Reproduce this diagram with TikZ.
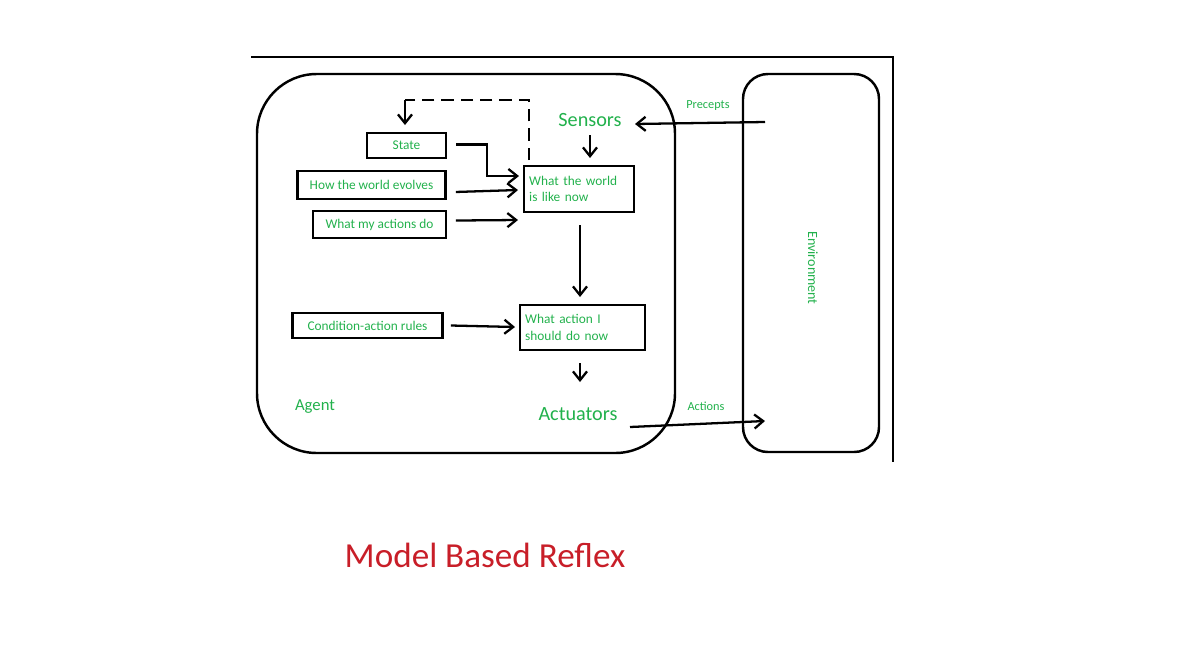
\documentclass[tikz,border=0pt]{standalone}
\usepackage{fontspec}
\setmainfont{Carlito}
\usetikzlibrary{arrows.meta}
\definecolor{grn}{RGB}{34,177,76}
\definecolor{ttl}{RGB}{200,30,40}
\begin{document}
\begin{tikzpicture}[x=0.02cm,y=-0.02cm,
  box/.style={draw,line width=1.4pt,inner sep=0pt,text=grn,font=\fontsize{7.6}{9.5}\selectfont},
  big/.style={text=grn,font=\fontsize{11.5}{13}\selectfont,inner sep=0pt},
  lbl/.style={text=grn,font=\fontsize{7}{8}\selectfont,inner sep=0pt},
  arr/.style={-{Straight Barb[length=5pt,width=8pt]},line width=1.3pt}]
\useasboundingbox (0,0) rectangle (1200,650);
\draw[line width=1pt] (251,57) -- (893,57) -- (893,462);
\draw[line width=1.4pt,rounded corners=60pt*0.567] (257,74) rectangle (675,453);
\draw[line width=1.4pt,rounded corners=25pt*0.567] (743,74) rectangle (879,452);
\node[lbl,rotate=-90,font=\fontsize{8}{9}\selectfont] (env) at (813,268) {Environment};
\node[big] (sens) at (590,120) {Sensors};
\node[big] (act) at (578,414) {Actuators};
\node[big,font=\fontsize{9.5}{11}\selectfont] (agent) at (315,407) {Agent};
\node[box,minimum width=79*0.567pt,minimum height=25*0.567pt] (state) at (406.5,145.5) {State};
\node[box,minimum width=149*0.567pt,minimum height=28*0.567pt] (evol) at (371.5,185) {How the world evolves};
\node[box,minimum width=133*0.567pt,minimum height=27*0.567pt] (mad) at (379.5,224.5) {What my actions do};
\node[box,minimum width=110*0.567pt,minimum height=46*0.567pt,align=left,text width=100*0.567pt] (world) at (579,189) {What the world\\is like now};
\node[box,minimum width=151*0.567pt,minimum height=25*0.567pt] (rules) at (367.5,325.5) {Condition-action rules};
\node[box,minimum width=125*0.567pt,minimum height=45*0.567pt,align=left,text width=115*0.567pt] (wa) at (582.5,327.5) {What action I\\should do now};
\node[text=ttl,font=\fontsize{20}{24}\selectfont,inner sep=0pt] (title) at (485,555) {Model Based Reflex};
\coordinate (pr) at (765,122);
\coordinate (ae) at (765,421);
\node[lbl] (plab) at (708,106) {Precepts};
\node[lbl] (alab) at (706,406) {Actions};
\draw[arr] ([xshift=9*0.567pt,yshift=1*0.567pt]state.east) -| (487,176) -- ([xshift=-4*0.567pt]world.west |- 0,176);
\draw[arr] ([xshift=9*0.567pt,yshift=-7*0.567pt]evol.east) -- (518,190);
\draw[arr] ([xshift=9*0.567pt,yshift=4*0.567pt]mad.east) -- (518,220);
\draw[arr] (sens.south |- 0,135) -- (sens.south |- 0,158);
\draw[line width=1.3pt,dash pattern=on 7pt off 4pt] (529,160) -- (529,100) -- (405,100);
\draw[arr] (405,100) -- (405,125);
\draw[arr] (580,225) -- (580,297);
\draw[arr] ([xshift=7*0.567pt]rules.east) -- (515,327);
\draw[arr] (580,363) -- (580,382);
\draw[arr] (pr) -- (635,124);
\draw[arr] (630,427) -- (ae);
\end{tikzpicture}
\end{document}
